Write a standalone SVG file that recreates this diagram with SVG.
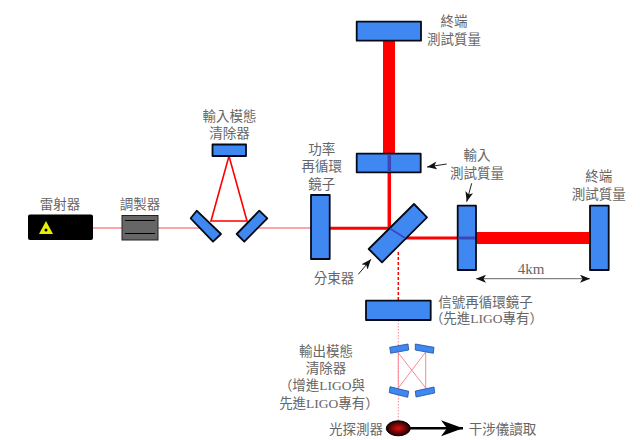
<svg xmlns="http://www.w3.org/2000/svg" width="640" height="440" viewBox="0 0 640 440">
<style>
.m{fill:#3f88f2;stroke:#050a18;stroke-width:1.8;stroke-linejoin:round}
.t{font-family:"Liberation Serif","Noto Sans CJK TC",serif;font-size:13.5px;fill:#666;text-anchor:middle}
.b{fill:none;stroke:#f00}
.f{fill:none;stroke:#f4505c;stroke-width:1.2}
.p{fill:none;stroke:#f58a98;stroke-width:1}
.o{fill:none;stroke:#3c46b8}
.a{fill:none;stroke:#222;stroke-width:1}
.g{fill:#3f88f2;stroke:#1d4f9a;stroke-width:.8}
</style>
<defs>
<marker id="h" markerUnits="userSpaceOnUse" markerWidth="12" markerHeight="8" refX="10" refY="4" orient="auto"><path d="M0 0L10 4L0 8L2.5 4Z" fill="#111"/></marker>
<marker id="h2" markerUnits="userSpaceOnUse" markerWidth="12" markerHeight="8" refX="10" refY="4" orient="auto-start-reverse"><path d="M0 0L10 4L0 8L2.5 4Z" fill="#111"/></marker>
<marker id="big" markerUnits="userSpaceOnUse" markerWidth="24" markerHeight="16" refX="22" refY="8" orient="auto"><path d="M0 0L22 8L0 16L6 8Z" fill="#000"/></marker>
<radialGradient id="det"><stop offset="0" stop-color="#e01010"/><stop offset="1" stop-color="#200000"/></radialGradient>
</defs>
<g id="connectors">
<path class="f" d="M93 228H122M158 228H200M258 228H311"/>
<path class="b" stroke-width="1.6" d="M211 221H247L229 156Z"/>
<path class="b" stroke-width="12" d="M389 40V154"/>
<path class="b" stroke-width="3.5" d="M389.300 172V228"/>
<path class="b" stroke-width="3" d="M329 228.300H389"/>
<path class="b" stroke-width="3" d="M405 238H458"/>
<path class="b" stroke-width="12" d="M476 238H590"/>
<path class="b" stroke-width="1.500" stroke-dasharray="3 2" d="M398.300 252V301"/>
<path class="p" stroke-dasharray="1.500 1.500" d="M398.300 320V420"/>
<path class="p" d="M398.300 352V389M425.700 352V389M398.300 353L425.700 388M425.700 352L398.300 388"/>
<path class="a" marker-end="url(#h)" d="M446.700 164L427 167"/>
<path class="a" marker-end="url(#h)" d="M471.700 183.300L466.700 201.700"/>
<path class="a" marker-end="url(#h)" d="M358.300 274.300L371 259.300"/>
<path class="a" style="stroke:#666" marker-start="url(#h2)" marker-end="url(#h2)" d="M476 278.700H590"/>
<path fill="none" stroke="#000" stroke-width="2.500" marker-end="url(#big)" d="M408 428.300H463"/>
</g>
<g id="laser"><rect x="28" y="214.500" width="65" height="25.500" rx="2" fill="#000"/><path d="M39 234L46 221L53 234Z" fill="#e8f000"/><circle cx="46" cy="230" r="1.500" fill="#000"/></g>
<g id="modulator"><rect x="122" y="215.500" width="36" height="24.500" fill="#666" stroke="#222" stroke-width="1"/><path d="M125 220.500H155M125 233.500H155" stroke="#000" stroke-width="1.200"/></g>
<g id="imc-left"><path class="m" d="M196.700 210.700L221 234L213 241.700L190.700 218.300Z"/></g>
<g id="imc-right"><path class="m" d="M259.300 210.700L267.300 218.300L244.300 241.700L236.700 234Z"/></g>
<g id="imc-top"><rect class="m" x="212.500" y="144.500" width="33.500" height="11.500"/></g>
<g id="power-recycling"><rect class="m" x="311" y="195" width="18.700" height="64"/></g>
<g id="itm-y"><rect class="m" x="356.700" y="153.700" width="64" height="18.600"/><path class="o" stroke-width="3.500" d="M389.300 154.500V171.500"/></g>
<g id="etm-y"><rect class="m" x="356.700" y="21.700" width="64.300" height="19"/></g>
<g id="beam-splitter"><path class="m" d="M414 204L427 217.300L382 262.300L368.700 249Z"/><path class="o" stroke-width="1.500" d="M390 228.500L405 238"/></g>
<g id="itm-x"><rect class="m" x="457.700" y="205.700" width="18.300" height="64.300"/><path class="o" stroke-width="3" d="M458.500 238H475"/></g>
<g id="etm-x"><rect class="m" x="590" y="205.700" width="18.700" height="64.300"/></g>
<g id="signal-recycling"><rect class="m" x="366" y="300.700" width="64.700" height="19.300"/></g>
<g id="omc"><path class="g" d="M389.700 347.300L408 344L408.700 350L390.700 353.300Z"/><path class="g" d="M415.300 344L434 347.300L433.300 353.300L415.300 350Z"/><path class="g" d="M390 386.700L408.700 391.300L407.700 397.300L389.300 392.700Z"/><path class="g" d="M415.300 391L434 387L434.700 393L416 397Z"/></g>
<g id="detector"><ellipse cx="398.300" cy="428.300" rx="12" ry="7.500" fill="url(#det)" stroke="#000" stroke-width="1"/></g>
<g id="labels">
<text class="t" x="454" y="26">終端</text>
<text class="t" x="454" y="44">測試質量</text>
<text class="t" x="229.500" y="121">輸入模態</text>
<text class="t" x="229.500" y="138">清除器</text>
<text class="t" x="60" y="209">雷射器</text>
<text class="t" x="140" y="209">調製器</text>
<text class="t" x="321.700" y="154">功率</text>
<text class="t" x="321.700" y="171">再循環</text>
<text class="t" x="321.700" y="189">鏡子</text>
<text class="t" x="477" y="160">輸入</text>
<text class="t" x="477" y="178">測試質量</text>
<text class="t" x="598.700" y="181">終端</text>
<text class="t" x="598.700" y="199">測試質量</text>
<text class="t" x="531" y="274" style="font-size:15px">4km</text>
<text class="t" x="334" y="283">分束器</text>
<text class="t" x="485.500" y="307">信號再循環鏡子</text>
<text class="t" x="486.500" y="323">（先進LIGO專有）</text>
<text class="t" x="326" y="356">輸出模態</text>
<text class="t" x="326" y="373">清除器</text>
<text class="t" x="322" y="390">（增進LIGO與</text>
<text class="t" x="329" y="408">先進LIGO專有）</text>
<text class="t" x="356" y="434">光探測器</text>
<text class="t" x="502.500" y="434">干涉儀讀取</text>
</g>
</svg>
